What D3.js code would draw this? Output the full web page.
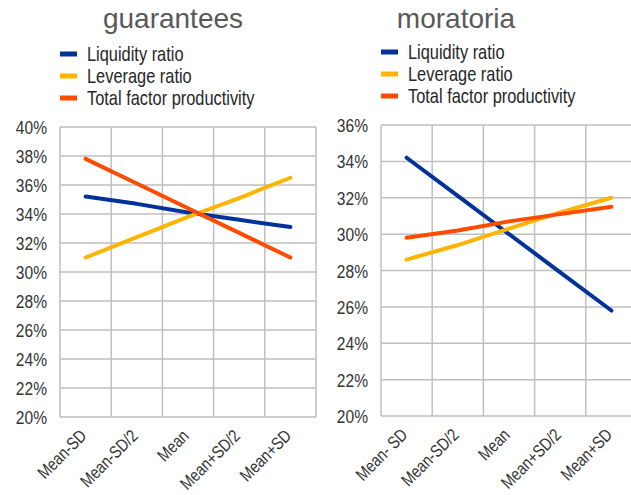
<!DOCTYPE html>
<html>
<head>
<meta charset="utf-8">
<script src="https://cdn.jsdelivr.net/npm/d3@7"></script>
<style>
  body { margin: 0; background: #fff; }
  svg { display: block; font-family: "Liberation Sans", Arial, sans-serif; }
</style>
</head>
<body>
<svg id="chart" width="631" height="495"></svg>
<script>
// categories and series (values in %)
var categoriesLeft = ["Mean-SD", "Mean-SD/2", "Mean", "Mean+SD/2", "Mean+SD"];
var categoriesRight = ["Mean- SD", "Mean-SD/2", "Mean", "Mean+SD/2", "Mean+SD"];
var seriesNames = ["Liquidity ratio", "Leverage  ratio", "Total factor productivity"];
var colors = ["#003299", "#ffb400", "#ff4b00"];

var guaranteesLiquidity = [35.2, 34.7, 34.1, 33.6, 33.1];
var guaranteesLeverage = [31.0, 32.4, 33.8, 35.1, 36.5];
var guaranteesTFP = [37.8, 36.1, 34.4, 32.7, 31.0];

var moratoriaLiquidity = [34.2, 32.1, 30.0, 27.9, 25.8];
var moratoriaLeverage = [28.6, 29.4, 30.3, 31.2, 32.0];
var moratoriaTFP = [29.8, 30.2, 30.7, 31.1, 31.5];

var ticksLeft = [20, 22, 24, 26, 28, 30, 32, 34, 36, 38, 40];
var ticksRight = [20, 22, 24, 26, 28, 30, 32, 34, 36];

// the source font is a condensed sans, so squeeze horizontally
var squeeze = 0.82;

var svg = d3.select("#chart");

function drawPanel(opts) {
  var g = svg.append("g");

  // title
  g.append("text")
    .attr("x", opts.titleX)
    .attr("y", 28)
    .attr("text-anchor", "middle")
    .style("font-size", "28px")
    .style("fill", "#595959")
    .text(opts.title);

  // legend
  opts.series.forEach(function(s, i) {
    var y = opts.legendY + i * 22;
    g.append("rect")
      .attr("x", opts.legendX)
      .attr("y", y - 2.5)
      .attr("width", 17)
      .attr("height", 5)
      .attr("fill", colors[i]);
    g.append("text")
      .attr("transform", "translate(" + (opts.legendX + 27) + "," + (y + 7) + ") scale(" + squeeze + ",1)")
      .style("font-size", "20px")
      .style("fill", "#262626")
      .text(seriesNames[i]);
  });

  var x = d3.scaleBand()
    .domain(opts.categories)
    .range([opts.left, opts.right])
    .paddingInner(0).paddingOuter(0);

  var y = d3.scaleLinear()
    .domain([opts.ticks[0], opts.ticks[opts.ticks.length - 1]])
    .range([opts.bottom, opts.top]);

  // horizontal grid
  g.selectAll(".hgrid")
    .data(opts.ticks)
    .enter().append("line")
    .attr("x1", opts.left).attr("x2", opts.right)
    .attr("y1", function(d) { return y(d); })
    .attr("y2", function(d) { return y(d); })
    .attr("stroke", "#bfbfbf")
    .attr("stroke-width", 1.5);

  // vertical grid at band edges
  var edges = opts.categories.map(function(c) { return x(c); }).concat([opts.right]);
  g.selectAll(".vgrid")
    .data(edges)
    .enter().append("line")
    .attr("x1", function(d) { return d; }).attr("x2", function(d) { return d; })
    .attr("y1", opts.top).attr("y2", opts.bottom)
    .attr("stroke", "#bfbfbf")
    .attr("stroke-width", 1.5);

  // y tick labels
  g.selectAll(".ylab")
    .data(opts.ticks)
    .enter().append("text")
    .attr("transform", function(d) {
      return "translate(" + (opts.left - 13) + "," + (y(d) + 7) + ") scale(" + squeeze + ",1)";
    })
    .attr("text-anchor", "end")
    .style("font-size", "19px")
    .style("fill", "#333")
    .text(function(d) { return d + "%"; });

  // x tick labels, rotated
  g.selectAll(".xlab")
    .data(opts.categories)
    .enter().append("text")
    .attr("transform", function(d) {
      return "translate(" + (x(d) + x.bandwidth() / 2 + 2) + "," + (opts.bottom + 20) + ") rotate(-45) scale(" + squeeze + ",1)";
    })
    .attr("text-anchor", "end")
    .style("font-size", "17.5px")
    .style("fill", "#333")
    .text(function(d) { return d; });

  // lines
  var line = d3.line()
    .x(function(d, i) { return x(opts.categories[i]) + x.bandwidth() / 2; })
    .y(function(d) { return y(d); });

  opts.series.forEach(function(s, i) {
    g.append("path")
      .datum(s)
      .attr("d", line)
      .attr("fill", "none")
      .attr("stroke", colors[i])
      .attr("stroke-width", 4)
      .attr("stroke-linecap", "round")
      .attr("stroke-linejoin", "round");
  });
}

drawPanel({
  title: "guarantees", titleX: 173,
  legendX: 60, legendY: 54,
  categories: categoriesLeft,
  ticks: ticksLeft,
  series: [guaranteesLiquidity, guaranteesLeverage, guaranteesTFP],
  left: 60, right: 316, top: 127, bottom: 417
});

drawPanel({
  title: "moratoria", titleX: 456,
  legendX: 381, legendY: 52,
  categories: categoriesRight,
  ticks: ticksRight,
  series: [moratoriaLiquidity, moratoriaLeverage, moratoriaTFP],
  left: 381, right: 637, top: 125, bottom: 416
});
</script>
</body>
</html>
